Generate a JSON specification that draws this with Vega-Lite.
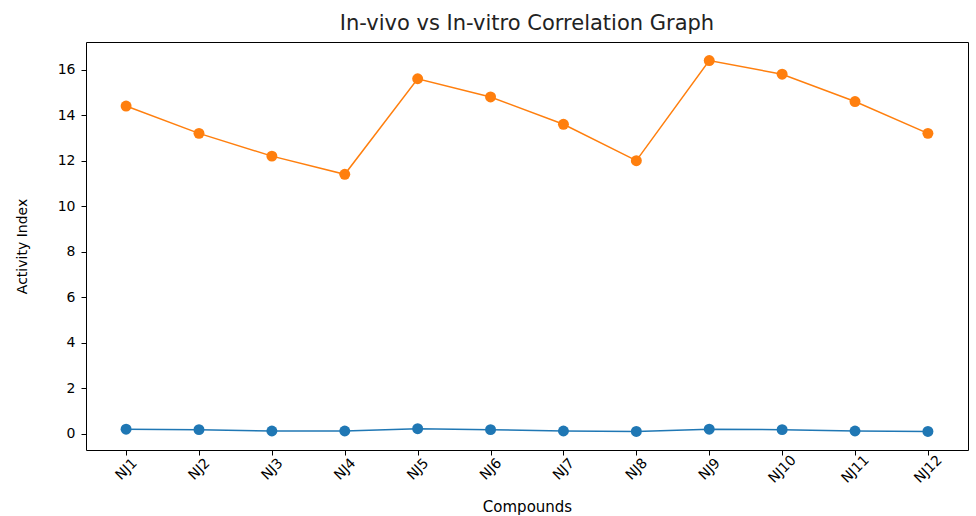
{
  "$schema": "https://vega.github.io/schema/vega-lite/v6.json",
  "autosize": "none",
  "width": 882,
  "height": 408,
  "padding": {"left": 86, "top": 42, "right": 8, "bottom": 66},
  "background": "white",
  "config": {
    "font": "DejaVu Sans",
    "view": {"stroke": "#000000", "strokeWidth": 1},
    "axis": {"grid": false, "domain": false, "tickColor": "#000", "tickSize": 5, "labelColor": "#000", "labelFontSize": 14, "titleColor": "#000", "titleFontWeight": "normal", "titleFontSize": 15}
  },
  "title": {"text": "In-vivo vs In-vitro Correlation Graph", "fontSize": 21, "fontWeight": "normal", "color": "#222", "offset": 8, "font": "DejaVu Sans"},
  "data": {"values": [
    {"compound": "NJ1", "series": "In-vitro", "value": 0.2},
    {"compound": "NJ2", "series": "In-vitro", "value": 0.18},
    {"compound": "NJ3", "series": "In-vitro", "value": 0.12},
    {"compound": "NJ4", "series": "In-vitro", "value": 0.12},
    {"compound": "NJ5", "series": "In-vitro", "value": 0.22},
    {"compound": "NJ6", "series": "In-vitro", "value": 0.18},
    {"compound": "NJ7", "series": "In-vitro", "value": 0.12},
    {"compound": "NJ8", "series": "In-vitro", "value": 0.1},
    {"compound": "NJ9", "series": "In-vitro", "value": 0.2},
    {"compound": "NJ10", "series": "In-vitro", "value": 0.18},
    {"compound": "NJ11", "series": "In-vitro", "value": 0.12},
    {"compound": "NJ12", "series": "In-vitro", "value": 0.1},
    {"compound": "NJ1", "series": "In-vivo", "value": 14.4},
    {"compound": "NJ2", "series": "In-vivo", "value": 13.2},
    {"compound": "NJ3", "series": "In-vivo", "value": 12.2},
    {"compound": "NJ4", "series": "In-vivo", "value": 11.4},
    {"compound": "NJ5", "series": "In-vivo", "value": 15.6},
    {"compound": "NJ6", "series": "In-vivo", "value": 14.8},
    {"compound": "NJ7", "series": "In-vivo", "value": 13.6},
    {"compound": "NJ8", "series": "In-vivo", "value": 12.0},
    {"compound": "NJ9", "series": "In-vivo", "value": 16.4},
    {"compound": "NJ10", "series": "In-vivo", "value": 15.8},
    {"compound": "NJ11", "series": "In-vivo", "value": 14.6},
    {"compound": "NJ12", "series": "In-vivo", "value": 13.2}
  ]},
  "encoding": {
    "x": {"field": "compound", "type": "ordinal", "sort": null,
      "scale": {"type": "point", "padding": 0.55},
      "axis": {"title": "Compounds", "labelAngle": -45, "labelAlign": "center", "labelBaseline": "middle", "labelPadding": 14, "titlePadding": 14}},
    "y": {"field": "value", "type": "quantitative",
      "scale": {"domain": [-0.715, 17.215], "nice": false, "zero": false},
      "axis": {"title": "Activity Index", "values": [0, 2, 4, 6, 8, 10, 12, 14, 16], "titleFontSize": 14, "titlePadding": 28, "labelPadding": 6}},
    "color": {"field": "series", "type": "nominal", "sort": ["In-vitro", "In-vivo"],
      "scale": {"domain": ["In-vitro", "In-vivo"], "range": ["#1f77b4", "#ff7f0e"]}, "legend": null}
  },
  "layer": [
    {"mark": {"type": "line", "strokeWidth": 1.5}},
    {"mark": {"type": "point", "filled": true, "opacity": 1, "size": 120}}
  ]
}
